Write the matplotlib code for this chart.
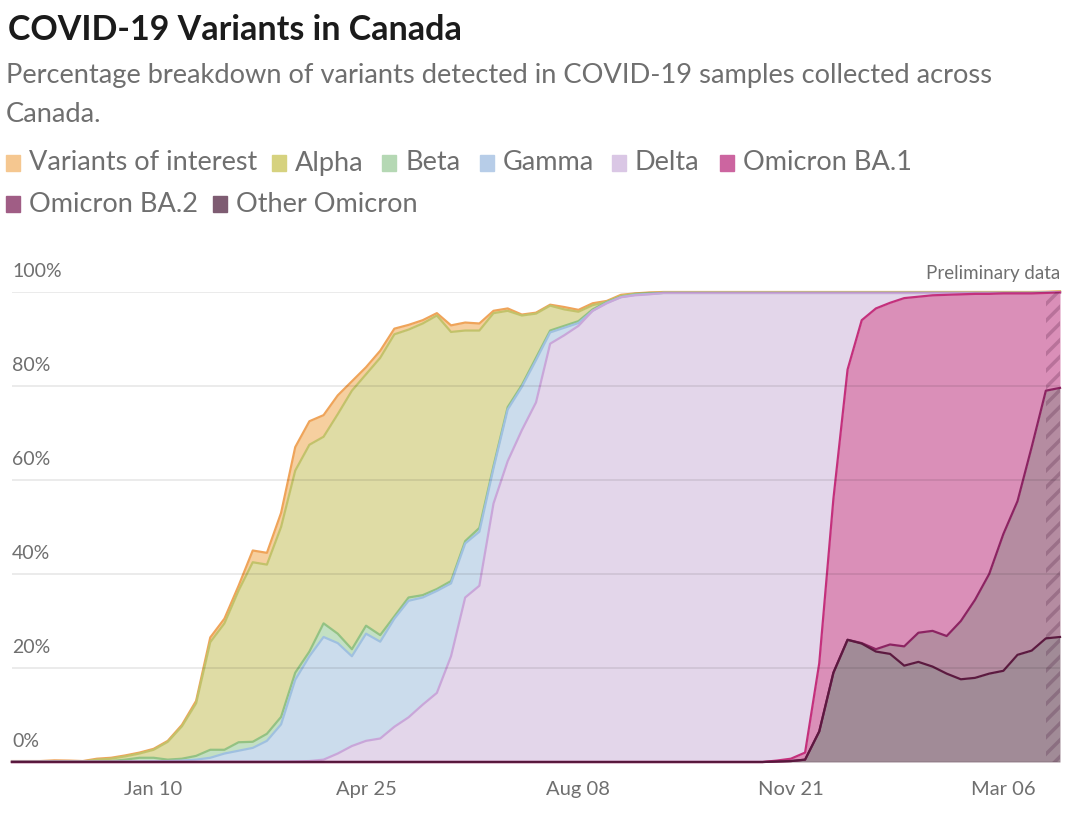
import numpy as np
import pandas as pd
import matplotlib.pyplot as plt
import matplotlib.dates as mdates
from matplotlib.patches import Rectangle

plt.rcParams['font.family'] = ['Lato', 'DejaVu Sans']
plt.rcParams['hatch.linewidth'] = 2.5

# weekly samples, Nov 1 2020 .. Apr 3 2022 (% of samples)
weeks = pd.date_range('2020-11-01', periods=75, freq='7D')

voi = [0.1, 0.1, 0.1, 0.2, 0.15, 0.1, 0.2, 0.2, 0.2, 0.2, 0.2, 0.2, 0.3, 0.5, 1.0, 1.0, 1.0, 2.5, 2.5, 3.0,
       5.0, 5.0, 4.6, 4.0, 2.0, 1.5, 1.5, 1.2, 1.0, 0.7, 0.5, 1.4, 1.7, 1.5, 0.5, 0.5, 0.2, 0.2, 0.2, 0.5,
       0.4, 0.4, 0.2, 0.2, 0.1, 0.1] + [0.1] * 29
alpha = [0, 0, 0, 0.05, 0.05, 0, 0.35, 0.5, 0.7, 0.9, 1.7, 3.8, 6.9, 11.2, 22.9, 26.9, 32.3, 38.2, 36.0, 40.4,
         43.0, 44.0, 39.7, 46.7, 55.0, 53.5, 59.0, 60.0, 57.0, 57.8, 58.2, 53.0, 44.8, 42.0, 32.5, 20.5, 14.8, 9.4,
         5.3, 3.5, 2.0, 0.9, 0, 0.2, 0.1, 0.1] + [0.1] * 29
beta = [0.05] * 6 + [0.1, 0.15, 0.4, 0.8, 0.75, 0.3, 0.4, 0.8, 1.7, 0.8, 1.8, 1.3, 1.5, 1.6, 1.5, 1.0, 2.9, 2.0,
                     1.5, 1.7, 1.4, 0.5, 0.7, 0.5, 0.4, 0.5, 0.5, 0.8, 0.5, 0.5, 0.4, 0.5, 0.4, 0.4, 0.4, 0.3,
                     0.2, 0.1, 0.1, 0.1] + [0] * 29
gamma = [0] * 8 + [0.05, 0.05, 0.1, 0.15, 0.25, 0.45, 0.85, 1.75, 2.35, 2.95, 4.45, 7.95, 17.4, 22.3, 26.1, 23.5,
                   19.1, 22.8, 20.6, 23.0, 24.8, 22.8, 21.7, 15.5, 11.5, 11.5, 7.5, 11.0, 9.2, 9.0, 2.4, 1.6, 0.6,
                   0, 0.1, 0, 0.1, 0.1] + [0] * 29
delta = [0.05] * 20 + [0.1, 0.2, 0.5, 1.8, 3.4, 4.5, 5.0, 7.5, 9.5, 12.2, 14.7, 22.5, 35.0, 37.5, 55.0, 64.0, 70.6,
                       76.5, 89.0, 90.8, 92.8, 96.0, 97.6, 98.9, 99.3, 99.5] + [99.8] * 8 + \
        [99.5, 99.1, 97.8, 78.8, 43.8, 16.3, 5.8, 3.3, 2.1, 1.1, 0.8, 0.5, 0.4, 0.3, 0.2, 0.2, 0.1, 0.1, 0.1, 0.05, 0.05]
omicron_ba1 = [0] * 54 + [0.2, 0.5, 1.5, 14.5, 37.0, 57.5, 68.7, 72.5, 72.7, 74.1, 71.5, 71.4, 72.6, 69.5, 65.1,
                          59.6, 51.2, 44.2, 32.7, 20.8, 20.3]
omicron_ba2 = [0] * 60 + [0.1, 0.5, 2.0, 4.1, 6.2, 7.6, 8.0, 12.4, 16.6, 21.2, 29.1, 32.7, 43.3, 52.7, 53.0]
other_omicron = [0] * 54 + [0.1, 0.2, 0.5, 6.5, 19.0, 26.0, 25.2, 23.5, 23.0, 20.5, 21.3, 20.3, 18.8, 17.6, 17.9,
                            18.8, 19.4, 22.8, 23.7, 26.3, 26.6]

names = ['Variants of interest', 'Alpha', 'Beta', 'Gamma', 'Delta', 'Omicron BA.1', 'Omicron BA.2', 'Other Omicron']
fills = ['#f6cf9f', '#dfdca5', '#c3e0c3', '#cbdcec', '#e3d6ea', '#da8fb8', '#b58ca1', '#a18b97']
lines = ['#efa45a', '#c2c26a', '#93c283', '#9fc0e0', '#c9a6d9', '#c4307c', '#8c2462', '#5c1a40']
swatch = ['#f5c790', '#d6d27f', '#b5d8b4', '#b7cde8', '#dac7e5', '#cc65a0', '#a05d85', '#7e5c72']

series = [voi, alpha, beta, gamma, delta, omicron_ba1, omicron_ba2, other_omicron]

fig = plt.figure(figsize=(10.8, 8.18), dpi=100)
W, H = 1080, 818
ax = fig.add_axes([12 / W, 1 - 762 / H, (1060 - 12) / W, (762 - 292) / H])

# stack from the bottom (Other Omicron) upwards
bottom = np.zeros(len(weeks))
tops = []
for vals, fc in zip(series[::-1], fills[::-1]):
    top = bottom + np.array(vals)
    ax.fill_between(weeks, bottom, top, color=fc, lw=0, zorder=1)
    tops.append(top)
    bottom = top
for top, lc in zip(tops[::-1], lines):
    ax.plot(weeks, top, color=lc, lw=1.6, zorder=3, solid_joinstyle='round', clip_on=False)

# preliminary data hatch (last week)
x0 = mdates.date2num(weeks[73])
x1 = mdates.date2num(weeks[74])
ax.add_patch(Rectangle((x0, 0), x1 - x0, 100, fill=False, hatch='//', lw=0,
                       edgecolor=(0.25, 0.05, 0.2, 0.22), zorder=4))

for v in range(0, 101, 20):
    ax.axhline(v, color='black', alpha=0.08, lw=1.4, zorder=5)
    ax.annotate(f'{v}%', xy=(0, v), xycoords=('axes fraction', 'data'), xytext=(0, 14.5),
                textcoords='offset points', ha='left', va='center', fontsize=14, color='#6f6f6f')

ax.text(1, 1 + 18 / 470, 'Preliminary data', transform=ax.transAxes,
        ha='right', va='center', fontsize=13.5, color='#6f6f6f')

ax.set_xlim(weeks[0], weeks[74])
ax.set_ylim(0, 100)
ticks = pd.to_datetime(['2021-01-10', '2021-04-25', '2021-08-08', '2021-11-21', '2022-03-06'])
ax.set_xticks(ticks)
ax.set_xticklabels([t.strftime('%b %d') for t in ticks])
ax.tick_params(axis='x', length=0, pad=14, labelsize=14.5, labelcolor='#6f6f6f')
ax.set_yticks([])
for s in ax.spines.values():
    s.set_visible(False)

fig.text(8 / W, 1 - 30 / H, 'COVID-19 Variants in Canada', fontsize=24.5, fontweight='bold',
         color='#1b1b1b', va='center', ha='left')
fig.text(6 / W, 1 - 75 / H, 'Percentage breakdown of variants detected in COVID-19 samples collected across',
         fontsize=19.6, color='#6f6f6f', va='center', ha='left')
fig.text(6 / W, 1 - 115 / H, 'Canada.', fontsize=19.6, color='#6f6f6f', va='center', ha='left')

# legend
leg_pos = [(6, 163), (272, 163), (382, 163), (480, 163), (612, 163), (720, 163), (6, 204), (213, 204)]
for (px, py), name, c in zip(leg_pos, names, swatch):
    fig.patches.append(Rectangle((px / W, 1 - (py + 8) / H), 14 / W, 16 / H, color=c,
                                 transform=fig.transFigure, figure=fig))
    fig.text((px + 23) / W, 1 - py / H, name, fontsize=19.5, color='#6f6f6f', va='center', ha='left')

fig.savefig('out.png', dpi=100)
